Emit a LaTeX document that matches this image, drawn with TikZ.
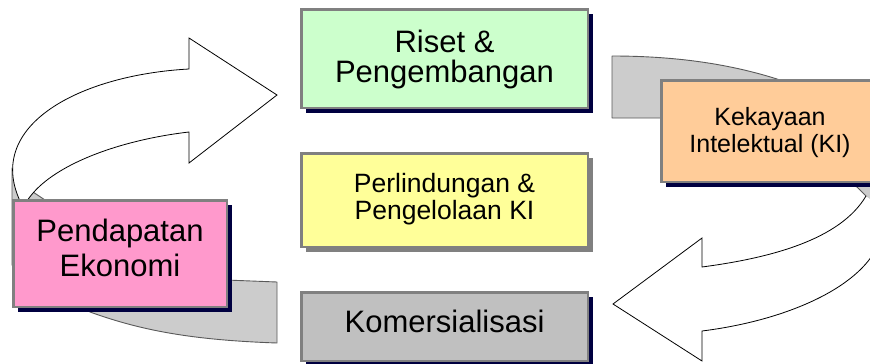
\documentclass[tikz,border=0pt]{standalone}
\usepackage{fontspec}
\setmainfont{Liberation Sans}
\usetikzlibrary{shadows}
\definecolor{navy}{RGB}{0,0,64}
\definecolor{bordergray}{RGB}{128,128,128}
\definecolor{bandgray}{RGB}{204,204,204}
\definecolor{rdgreen}{RGB}{204,255,204}
\definecolor{plyellow}{RGB}{255,255,153}
\definecolor{komgray}{RGB}{192,192,192}
\definecolor{kiorange}{RGB}{255,204,153}
\definecolor{pepink}{RGB}{255,153,204}
\begin{document}
\begin{tikzpicture}[x=1pt,y=-1pt,
  box/.style={draw=bordergray, line width=2.5pt, inner sep=0pt, rectangle},
  navyshadow/.style={drop shadow={shadow xshift=5pt,shadow yshift=-5pt,fill=navy,opacity=1}},
  grayshadow/.style={drop shadow={shadow xshift=5pt,shadow yshift=-5pt,fill=bordergray,opacity=1}},
  band/.style={fill=bandgray, draw=black!65, line width=0.9pt, line join=round},
  arrowline/.style={draw=black, line width=0.8pt, line join=miter},
  bigtext/.style={font=\fontsize{31}{30}\selectfont, align=center, inner sep=0pt},
  pdtext/.style={font=\fontsize{31}{35}\selectfont, align=center, inner sep=0pt},
  pltext/.style={font=\fontsize{26.5}{26.5}\selectfont, align=center, inner sep=0pt},
  kitext/.style={font=\fontsize{25}{27}\selectfont, align=center, inner sep=0pt}]
\useasboundingbox (0,0) rectangle (870,364);
\clip (0,0) rectangle (870,364);

% gray back of the lower-left ribbon
\draw[band] (200,279) -- (277,282) -- (277,343)
  .. controls (190,340) and (140,330) .. (90,312)
  -- (12,265) -- (12,168) -- (30,190) -- (150,270) -- cycle;

% white front of the upper-left arrow
\fill[white] (20,201) .. controls (-15,125) and (80,75) .. (189,69)
  -- (189,38) -- (277,95) -- (189,163) -- (189,132)
  .. controls (120,140) and (50,165) .. (27,201) -- cycle;
\draw[arrowline] (20,201) .. controls (-15,125) and (80,75) .. (189,69)
  -- (189,38) -- (277,95) -- (189,163) -- (189,132)
  .. controls (120,140) and (50,165) .. (27,201);

% gray back of the upper-right ribbon
\draw[band] (612,56) .. controls (690,56) and (750,68) .. (800,87)
  -- (900,130) -- (900,240) -- (866,196) -- (857,187)
  -- (700,130) -- (660,118) -- (612,118) -- cycle;

% white front of the lower-right arrow
\fill[white] (866,196) .. controls (840,240) and (770,258) .. (702,267)
  -- (702,238) -- (613,304) -- (702,361) -- (702,331)
  .. controls (790,320) and (865,285) .. (880,240) -- (890,215) -- cycle;
\draw[arrowline] (866,196) .. controls (840,240) and (770,258) .. (702,267)
  -- (702,238) -- (613,304) -- (702,361) -- (702,331)
  .. controls (790,320) and (865,285) .. (880,240);

% boxes
\node[box, fill=rdgreen, navyshadow, minimum width=286.5pt, minimum height=98.5pt] (rd) at (444.5,58.5) {};
\node[bigtext] (rdtext) at (444.5,59) {Riset \&\\Pengembangan};

\node[box, fill=plyellow, grayshadow, minimum width=286.5pt, minimum height=93.5pt] (pl) at (444.5,200) {};
\node[pltext] (pltxt) at (444.5,199) {Perlindungan \&\\Pengelolaan KI};

\node[box, fill=komgray, navyshadow, minimum width=286.5pt, minimum height=68.5pt] (km) at (444.5,326.5) {};
\node[bigtext, anchor=base] (kmtext) at (444.5,332) {Komersialisasi};

\node[box, fill=pepink, navyshadow, minimum width=213.5pt, minimum height=106.5pt] (pd) at (120,253.5) {};
\node[pdtext] (pdtxt) at (120,248.4) {Pendapatan\\Ekonomi};

\node[box, fill=kiorange, navyshadow, minimum width=217.5pt, minimum height=101.5pt] (ki) at (770,131) {};
\node[kitext] (kitxt) at (770,132.2) {Kekayaan\\Intelektual (KI)};
\end{tikzpicture}
\end{document}
